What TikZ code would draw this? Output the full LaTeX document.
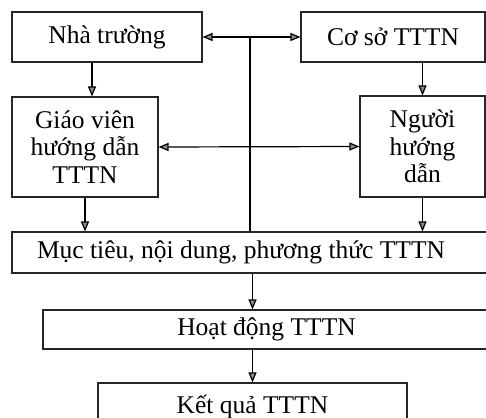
\documentclass[tikz,border=0pt]{standalone}
\usepackage{fontspec}
\setmainfont{Liberation Serif}
\usetikzlibrary{calc,positioning,arrows.meta}

\begin{document}
\begin{tikzpicture}[x=1pt,y=-1pt,font=\fontsize{25.5}{27.5}\selectfont]
\tikzstyle{box}=[rectangle, draw=black!85, line width=1.1pt, inner sep=0pt, align=center]
\tikzstyle{arr}=[-{Triangle[width=8pt,length=10pt,fill=black!45]}, line width=1.2pt]
\tikzstyle{darr}=[{Triangle[width=8pt,length=10pt,fill=black!45]}-{Triangle[width=8pt,length=10pt,fill=black!45]}, line width=1.2pt]

\useasboundingbox (0,0) rectangle (486,417);
\clip (0,0) rectangle (486,417);

\node[box, minimum width=190pt, minimum height=50pt] (school) at (107,37) {Nhà trường};
\node[box, minimum width=184pt, minimum height=50pt] (base) at (393,37) {Cơ sở TTTN};
\node[box, minimum width=146pt, minimum height=100pt] (teacher) at (85,147) {Giáo viên\\hướng dẫn\\TTTN};
\node[box, minimum width=125pt, minimum height=101pt] (mentor) at (422.5,146.5) {Người\\hướng\\dẫn};
\node[box, minimum width=510pt, minimum height=41pt] (goal) at (267,252.5) {\makebox[460pt][l]{Mục tiêu, nội dung, phương thức TTTN}};
\node[box, minimum width=447pt, minimum height=39pt] (work) at (266.5,329.5) {Hoạt động TTTN};
\node[box, minimum width=309pt, minimum height=47pt] (result) at (252.5,406.5) {Kết quả TTTN};
\coordinate (hub) at (250,38);

\draw[darr] (school.east) -- (base.west);
\draw[darr] (teacher.east) -- (mentor.west);
\draw[line width=1.2pt] (hub) -- (hub |- goal.north);
\draw[arr] ([xshift=-15pt]school.south) -- ([xshift=-15pt]school.south |- teacher.north);
\draw[arr] (mentor.north |- base.south) -- (mentor.north);
\foreach \i in {teacher,mentor}{\draw[arr] (\i.south) -- (\i.south |- goal.north);}
\draw[arr] (result.north |- goal.south) -- (result.north |- work.north);
\draw[arr] (result.north |- work.south) -- (result.north);
\end{tikzpicture}
\end{document}
